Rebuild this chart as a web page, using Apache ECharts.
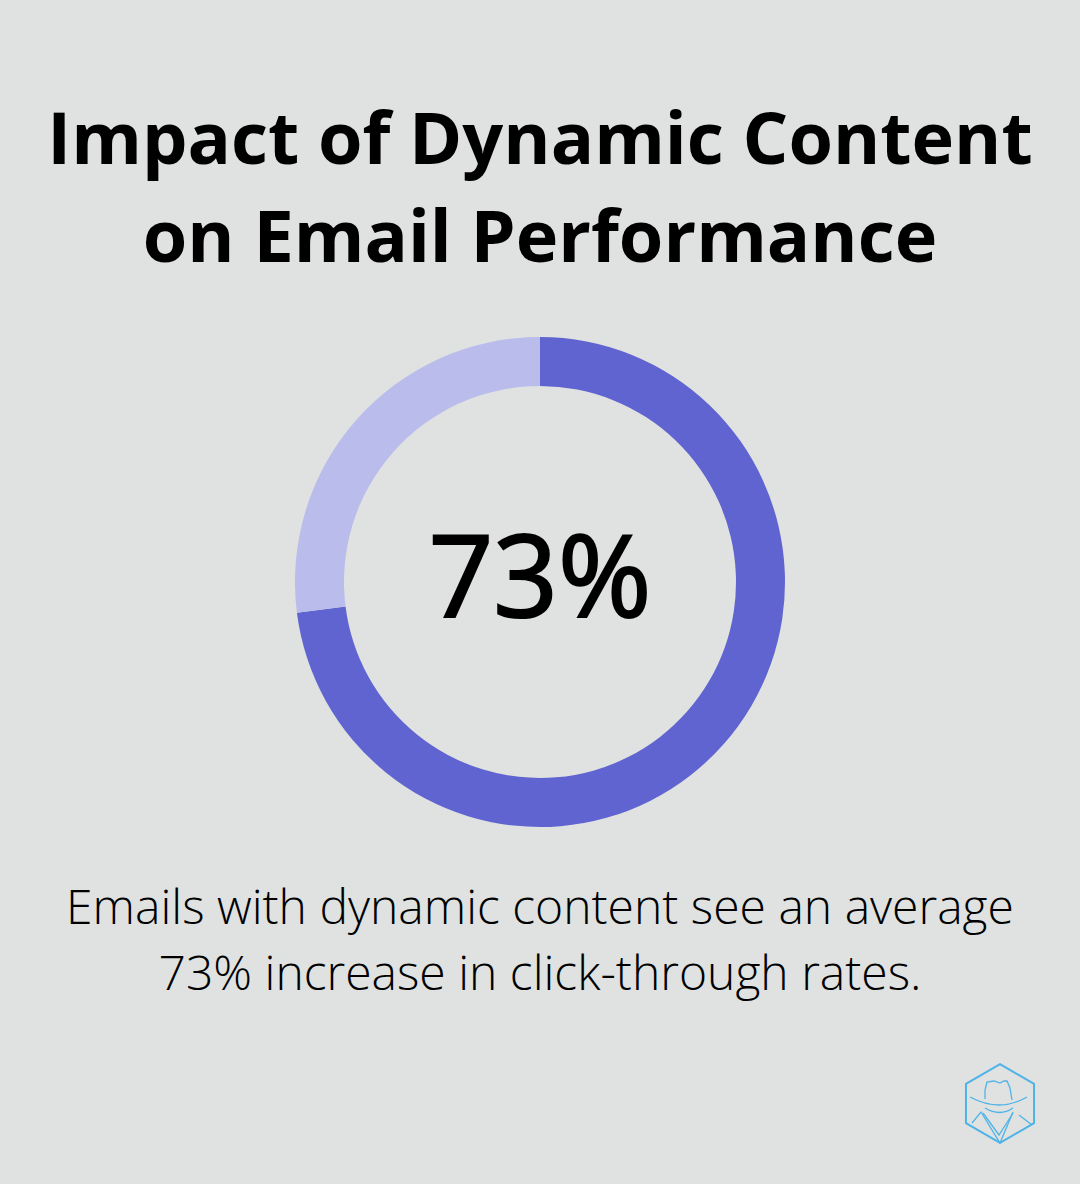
<!DOCTYPE html>
<html><head><meta charset="utf-8">
<style>html,body{margin:0;padding:0;background:#dfe2e0}#c{width:1080px;height:1184px}</style>
<script src="https://cdn.jsdelivr.net/npm/echarts@6/dist/echarts.min.js"></script>
</head><body><div id="c"></div>
<script>
const sliceNames = ["With increase","Remainder"];
const sliceValues = [73,27];
const sliceColors = ["#6064d0","#babcec"];
const titleLines = ["Impact of Dynamic Content","on Email Performance"];
const centerLabel = "73%";
const captionLines = ["Emails with dynamic content see an average","73% increase in click-through rates."];
const font = '"Open Sans"';
const chart = echarts.init(document.getElementById('c'),null,{renderer:'svg'});
const textEl=(t,y,size,weight,extra)=>({type:'text',left:'center',top:y,style:Object.assign({text:t,font:`${weight} ${size}px ${font}`,fill:'#000',textAlign:'center'},extra||{})});
const hex=(cx,cy,r)=>{const p=[];for(let i=0;i<6;i++){const a=Math.PI/3*i-Math.PI/2;p.push([cx+r*Math.cos(a),cy+r*Math.sin(a)]);}return p;};
const logoStroke={stroke:'#4fb3e8',lineWidth:1.3,fill:'none'};
const logoCurves=[
  [970,1097,1000,1113,1027,1097],
  [985,1108,1000,1117,1013,1108]
];
const logoLines=[
  [[985,1099],[985,1090],[987,1082],[994,1081],[1000,1083],[1004,1081],[1007,1081],[1010,1088],[1012,1100]],
  [[972,1123],[981,1112],[1000,1143],[1013,1112]],
  [[983,1113],[999,1135],[1013,1113]],
  [[1019,1115],[1032,1125]]
];
chart.setOption({
  backgroundColor:'#dfe2e0',
  animation:false,
  series:[{type:'pie',center:[540,582],radius:[196,245],startAngle:90,clockwise:true,silent:true,
    label:{show:false},labelLine:{show:false},
    data:sliceNames.map((n,i)=>({name:n,value:sliceValues[i],itemStyle:{color:sliceColors[i]}}))}],
  graphic:[
    textEl(titleLines[0],100,72,700),
    textEl(titleLines[1],198,72,700),
    textEl(centerLabel,515,113,400,{stroke:'#000',lineWidth:2.2}),
    textEl(captionLines[0],881,48,300),
    textEl(captionLines[1],947,48,300),
    {type:'polygon',shape:{points:hex(1000,1103.5,39.3)},style:{fill:'none',stroke:'#4fb3e8',lineWidth:2}},
    ...logoCurves.map(c=>({type:'bezierCurve',shape:{x1:c[0],y1:c[1],cpx1:c[2],cpy1:c[3],x2:c[4],y2:c[5]},style:logoStroke})),
    ...logoLines.map(p=>({type:'polyline',shape:{points:p},style:logoStroke}))
  ]
});
</script></body></html>
